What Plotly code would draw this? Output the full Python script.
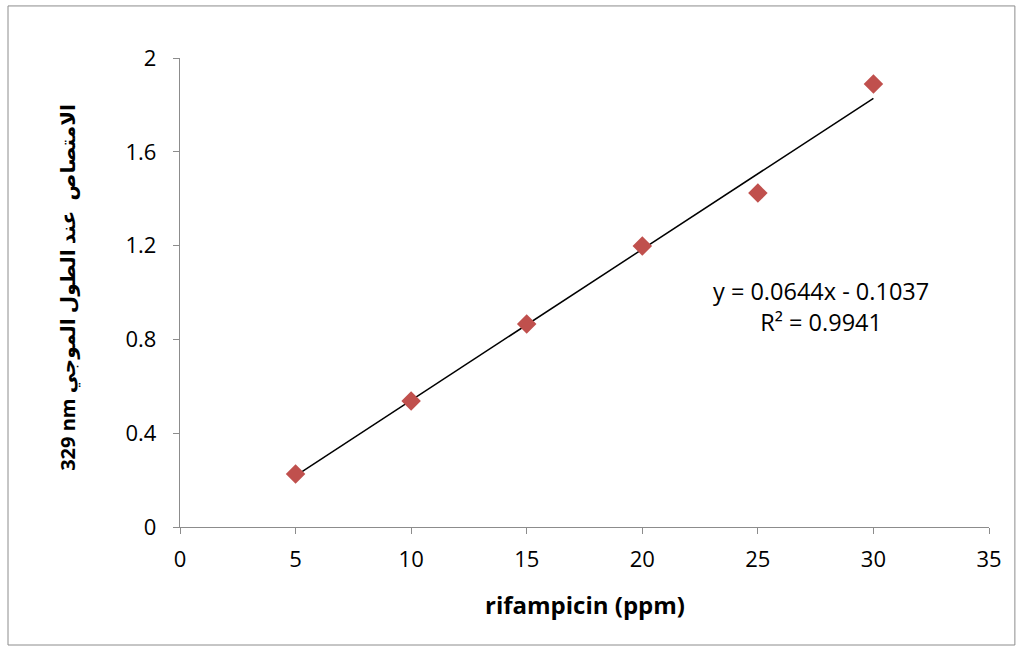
import plotly.graph_objects as go

conc_ppm = [5, 10, 15, 20, 25, 30]
absorbance = [0.226, 0.537, 0.866, 1.198, 1.424, 1.889]
slope = 0.0644
intercept = -0.1037
r_squared = 0.9941
x_ticks = [0, 5, 10, 15, 20, 25, 30, 35]
y_ticks = [0, 0.4, 0.8, 1.2, 1.6, 2]
y_tick_text = ["0", "0.4", "0.8", "1.2", "1.6", "2"]

fit_x = [min(conc_ppm), max(conc_ppm)]
fit_y = [slope * v + intercept for v in fit_x]

font_fam = "'Open Sans', 'DejaVu Sans', sans-serif"
axis_col = "#8c8c8c"

fig = go.Figure()
fig.add_trace(go.Scatter(x=fit_x, y=fit_y, mode="lines",
                         line=dict(color="black", width=1.5), showlegend=False, hoverinfo="skip"))
fig.add_trace(go.Scatter(x=conc_ppm, y=absorbance, mode="markers",
                         marker=dict(symbol="diamond", size=15, color="#C0504D"),
                         showlegend=False))

fig.update_layout(
    width=1022, height=651,
    margin=dict(l=180, r=33, t=58, b=124),
    paper_bgcolor="white", plot_bgcolor="white",
    font=dict(family=font_fam, size=22, color="black"),
    xaxis=dict(range=[0, 35], tickvals=x_ticks, ticktext=[str(v) for v in x_ticks],
               showgrid=False, zeroline=False, showline=True, linecolor=axis_col, linewidth=1.3,
               ticks="outside", ticklen=6, tickcolor=axis_col, tickwidth=1.3,
               ticklabelstandoff=6),
    yaxis=dict(range=[0, 2], tickvals=y_ticks, ticktext=y_tick_text,
               showgrid=False, zeroline=False, showline=True, linecolor=axis_col, linewidth=1.3,
               ticks="outside", ticklen=6, tickcolor=axis_col, tickwidth=1.3,
               ticklabelstandoff=12),
)

fig.add_annotation(x=0.5006, y=-0.1663, xref="paper", yref="paper",
                   text="<b>rifampicin (ppm)</b>", showarrow=False,
                   font=dict(size=24, family=font_fam), xanchor="center", yanchor="middle")
fig.add_annotation(x=-0.1384, y=0.51, xref="paper", yref="paper",
                   text="<b>329 nm الامتصاص  عند الطول الموجي</b>", showarrow=False, textangle=-90,
                   font=dict(size=20, family=font_fam), xanchor="center", yanchor="middle")
fig.add_annotation(x=27.73, y=0.94, xref="x", yref="y",
                   text=f"y = {slope}x - {abs(intercept)}<br>R² = {r_squared}", showarrow=False,
                   font=dict(size=23.5, family=font_fam), align="center")

fig.add_shape(type="rect", xref="paper", yref="paper",
              x0=-0.2126, x1=1.032, y0=-0.2516, y1=1.111,
              line=dict(color="#8c8c8c", width=1), layer="below")

fig.write_html("out.html")
